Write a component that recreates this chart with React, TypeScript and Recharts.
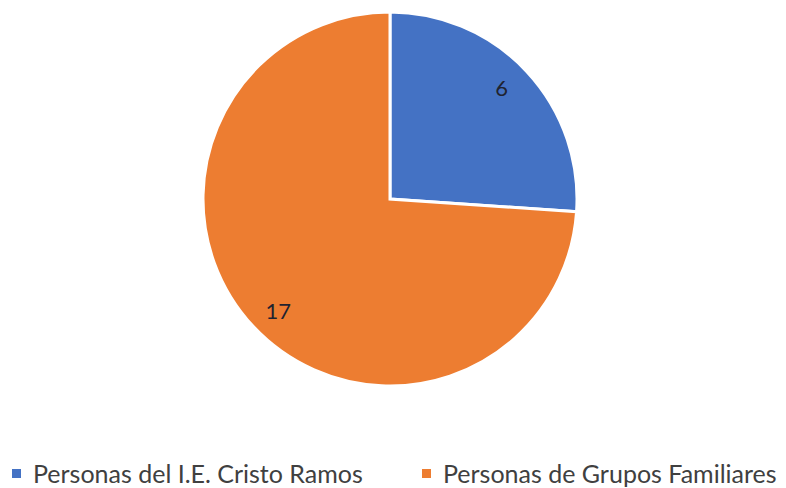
import { PieChart, Pie, Cell, Legend } from "recharts";

const groups = ["Personas del I.E. Cristo Ramos", "Personas de Grupos Familiares"];
const counts = [6, 17];
const COLORS = ["#4472C4", "#ED7D31"];

const data = groups.map((name, i) => ({ name, value: counts[i] }));

if (typeof document !== "undefined") document.body.style.margin = "0";

const RAD = Math.PI / 180;

function renderLabel(props: any) {
  const { cx, cy, midAngle, outerRadius, value } = props;
  const r = outerRadius * 0.845;
  const a = (midAngle + 2) * RAD;
  const x = cx + r * Math.cos(-a);
  const y = cy + r * Math.sin(-a);
  return (
    <text x={x} y={y} fill="#1f2330" fontSize={22} fontFamily="Lato, 'Open Sans', sans-serif" textAnchor="middle" dominantBaseline="central">
      {value}
    </text>
  );
}

const legendX = [12, 422];

function renderLegend(props: any) {
  const { payload } = props;
  const items = groups.map((g) => payload.find((p: any) => p.value === g)).filter(Boolean);
  return (
    <div style={{ position: "relative", width: 786, height: 30 }}>
      {items.map((entry: any, i: number) => (
        <div key={i} style={{ position: "absolute", left: legendX[i], top: 0, display: "flex", alignItems: "center" }}>
          <span style={{ width: 9, height: 9, background: entry.color, display: "inline-block", marginRight: 12 }} />
          <span style={{ fontFamily: "Lato, 'Open Sans', sans-serif", fontSize: 25, lineHeight: "30px", color: "#404040", whiteSpace: "nowrap" }}>{entry.value}</span>
        </div>
      ))}
    </div>
  );
}

export default function App() {
  return (
    <PieChart width={786} height={488} margin={{ top: 0, right: 0, bottom: 0, left: 0 }}>
      <Pie
        data={data}
        dataKey="value"
        nameKey="name"
        cx={390}
        cy={199}
        outerRadius={187}
        startAngle={90}
        endAngle={-270}
        stroke="#ffffff"
        strokeWidth={3}
        label={renderLabel}
        labelLine={false}
        isAnimationActive={false}
      >
        {data.map((_, i) => <Cell key={i} fill={COLORS[i]} />)}
      </Pie>
      <Legend
        verticalAlign="bottom"
        content={renderLegend}
        wrapperStyle={{ left: 0, bottom: 0, width: 786 }}
      />
    </PieChart>
  );
}
